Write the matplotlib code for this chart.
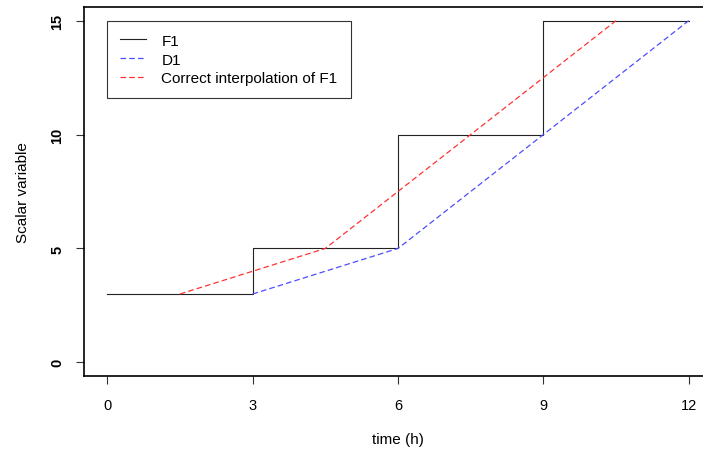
import matplotlib.pyplot as plt
import numpy as np

plt.rcParams['font.family'] = ['Liberation Sans', 'DejaVu Sans']
plt.rcParams['font.size'] = 11

# step function F1 and its two interpolations
f1_x = [0, 3, 6, 9, 12]
f1_y = [3, 5, 10, 15, 15]
d1_x = [3, 6, 9, 12]
d1_y = [3, 5, 10, 15]
interp_x = [1.5, 4.5, 7.5, 10.5]
interp_y = [3, 5, 10, 15]

xticks = [0, 3, 6, 9, 12]
yticks = [0, 5, 10, 15]

fig = plt.figure(figsize=(7.03, 4.52), dpi=100)
ax = fig.add_axes([84 / 703, 1 - 377 / 452, 628 / 703, 369 / 452])

dash = (0, (4.5, 2.5))
ax.step(f1_x, f1_y, where='post', color='#222222', lw=0.8, label='F1')
ax.plot(d1_x, d1_y, color='#4d4dff', lw=0.9, linestyle=dash, label='D1')
ax.plot(interp_x, interp_y, color='#ff3333', lw=0.9, linestyle=dash,
        label='Correct interpolation of F1')

ax.set_xlim(-0.48, 12.48)
ax.set_ylim(-0.6, 15.6)
ax.set_xticks(xticks)
ax.set_yticks(yticks)
ax.tick_params(axis='both', length=6, width=0.8, color='#333333', labelsize=10.5)
ax.tick_params(axis='x', pad=10)
ax.tick_params(axis='y', pad=8)
for lab in ax.get_yticklabels():
    lab.set_rotation(90)
    lab.set_va('center')
    lab.set_fontweight('bold')
for s in ax.spines.values():
    s.set_linewidth(1.2)

ax.set_xlabel('time (h)', labelpad=14, fontsize=11)
ax.set_ylabel('Scalar variable', labelpad=15, fontsize=11)

# legend frame anchored at the data point (0, 15)
leg = ax.legend(loc='upper left', bbox_to_anchor=(0, 15), bbox_transform=ax.transData,
                fancybox=False, framealpha=1, edgecolor='#333333',
                borderpad=0.85, handlelength=1.7, handletextpad=1.0,
                labelspacing=0.32, borderaxespad=0, fontsize=11)
leg.get_frame().set_linewidth(0.8)

fig.savefig('out.png', dpi=100)
